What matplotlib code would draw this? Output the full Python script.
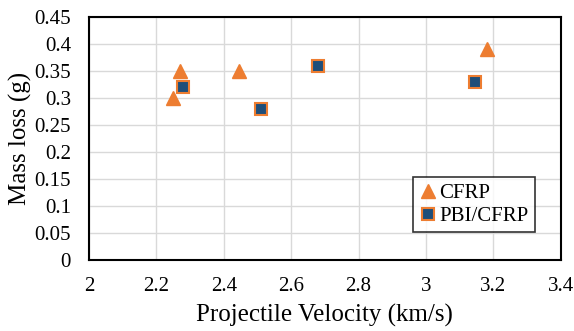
import matplotlib
matplotlib.use("Agg")
import matplotlib.pyplot as plt

# data
cfrp_v = [2.25, 2.27, 2.445, 3.18]
cfrp_loss = [0.30, 0.35, 0.35, 0.39]
pbi_v = [2.28, 2.51, 2.68, 3.145]
pbi_loss = [0.32, 0.28, 0.36, 0.33]

xticks = [2, 2.2, 2.4, 2.6, 2.8, 3, 3.2, 3.4]
xlabels = ["2", "2.2", "2.4", "2.6", "2.8", "3", "3.2", "3.4"]
yticks = [0, 0.05, 0.1, 0.15, 0.2, 0.25, 0.3, 0.35, 0.4, 0.45]
ylabels = ["0", "0.05", "0.1", "0.15", "0.2", "0.25", "0.3", "0.35", "0.4", "0.45"]

plt.rcParams['font.family'] = ['Liberation Serif', 'DejaVu Serif']

fig = plt.figure(figsize=(5.74, 3.31), dpi=100)
ax = fig.add_axes([0.155, 0.2145, 0.822, 0.734])

orange = "#ED7D31"
navy = "#1F4E79"

ax.plot(cfrp_v, cfrp_loss, linestyle="none", marker="^", markersize=10,
        color=orange, markeredgecolor=orange, label="CFRP", zorder=3)
ax.plot(pbi_v, pbi_loss, linestyle="none", marker="s", markersize=9,
        color=navy, markeredgecolor=orange, markeredgewidth=1.5,
        label="PBI/CFRP", zorder=3)

ax.set_xlim(2, 3.4)
ax.set_ylim(0, 0.45)
ax.set_xticks(xticks)
ax.set_xticklabels(xlabels)
ax.set_yticks(yticks)
ax.set_yticklabels(ylabels)
ax.tick_params(length=0, labelsize=15)
ax.tick_params(axis="y", pad=13)
ax.tick_params(axis="x", pad=12)
ax.grid(True, color="#D9D9D9", linewidth=1)
ax.set_axisbelow(True)

for s in ax.spines.values():
    s.set_color("black")
    s.set_linewidth(1.5)

ax.set_xlabel("Projectile Velocity (km/s)", fontsize=18, labelpad=6)
ax.set_ylabel("Mass loss (g)", fontsize=18, labelpad=2)

leg = ax.legend(loc="lower right", bbox_to_anchor=(0.945, 0.115), fontsize=15,
                frameon=True, fancybox=False, handlelength=0.8,
                handletextpad=0.15, borderpad=0.3, labelspacing=0.15,
                borderaxespad=0)
leg.get_frame().set_edgecolor("black")
leg.get_frame().set_linewidth(1.2)

fig.savefig("out.png", dpi=100)
